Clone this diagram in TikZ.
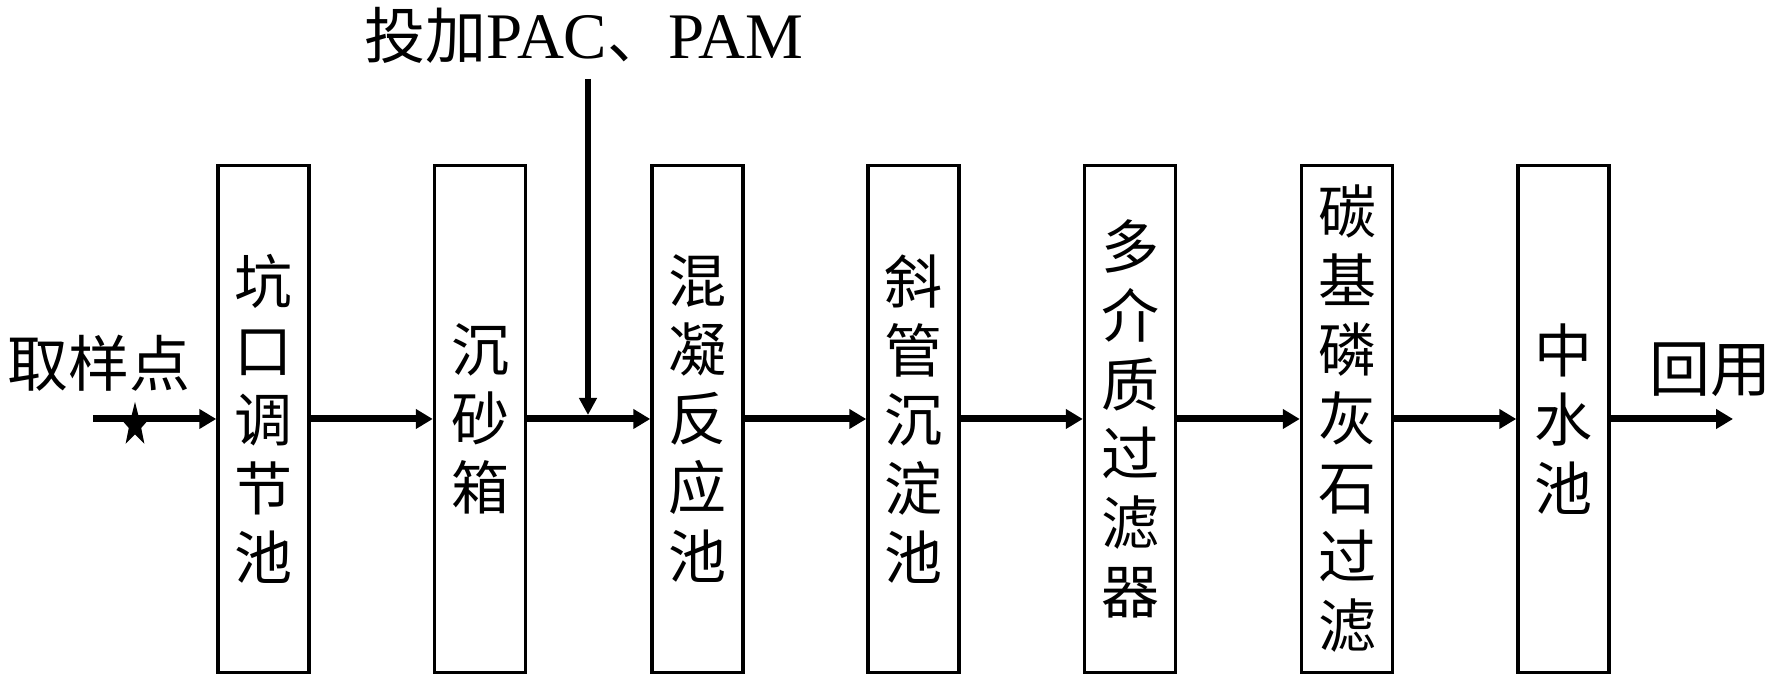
\documentclass[tikz,border=0pt]{standalone}
\usepackage{fontspec}
\setmainfont{Liberation Serif}
\newfontfamily\cjk{Noto Sans CJK SC}
\usetikzlibrary{arrows.meta, positioning, shapes.geometric}

\begin{document}
\begin{tikzpicture}[x=1pt, y=1pt,
  tank/.style={draw, line width=3.5pt, minimum width=91pt, minimum height=507pt, inner sep=0pt, align=center, font=\cjk\fontsize{58}{69}\selectfont},
  flow/.style={-{Triangle[length=17pt, width=19pt]}, line width=7pt},
  lbl/.style={inner sep=0pt, font=\cjk\fontsize{61}{70}\selectfont}]
  \useasboundingbox (0,0) rectangle (1778,676);

  % Treatment units
  \node[tank] (tk1) at (263.5, 257) {坑\\口\\调\\节\\池};
  \node[tank] (tk2) at (480, 257) {沉\\砂\\箱};
  \node[tank] (tk3) at (697.5, 257) {混\\凝\\反\\应\\池};
  \node[tank] (tk4) at (913.5, 257) {斜\\管\\沉\\淀\\池};
  \node[tank] (tk5) at (1130, 257) {多\\介\\质\\过\\滤\\器};
  \node[tank] (tk6) at (1347, 257) {碳\\基\\磷\\灰\\石\\过\\滤};
  \node[tank] (tk7) at (1563.5, 257) {中\\水\\池};

  % Inlet and outlet
  \node[lbl] (inlbl) at (99, 313) {取样点};
  \node[lbl] (outlbl) at (1710, 306) {回用};
  \coordinate (inlet) at (93, 257);
  \coordinate (outlet) at (1733, 257);

  % Dosing
  \node[lbl] (dose) at (584, 641) {投加{\fontspec{Liberation Serif}\fontsize{65}{70}\selectfont PAC}、{\fontspec{Liberation Serif}\fontsize{65}{70}\selectfont PAM}};
  \coordinate (dosetop) at (588, 597);
  \coordinate (dosein) at (588, 261);
  \draw[-{Triangle[length=17pt, width=17pt]}, line width=6.5pt] (dosetop) -- (dosein);

  % Flow line
  \draw[flow] (inlet) -- (tk1.west);
  \draw[flow] (tk1.east) -- (tk2.west);
  \draw[flow] (tk2.east) -- (tk3.west);
  \draw[flow] (tk3.east) -- (tk4.west);
  \draw[flow] (tk4.east) -- (tk5.west);
  \draw[flow] (tk5.east) -- (tk6.west);
  \draw[flow] (tk6.east) -- (tk7.west);
  \draw[flow] (tk7.east) -- (outlet);

  % Sampling point
  \fill[shift={(135, 251)}, xscale=0.69] (90:23)
    \foreach \a in {1,...,9} {-- ({90+36*\a}:{ifthenelse(mod(\a,2)==1, 9.5, 23)})} -- cycle;
\end{tikzpicture}
\end{document}
